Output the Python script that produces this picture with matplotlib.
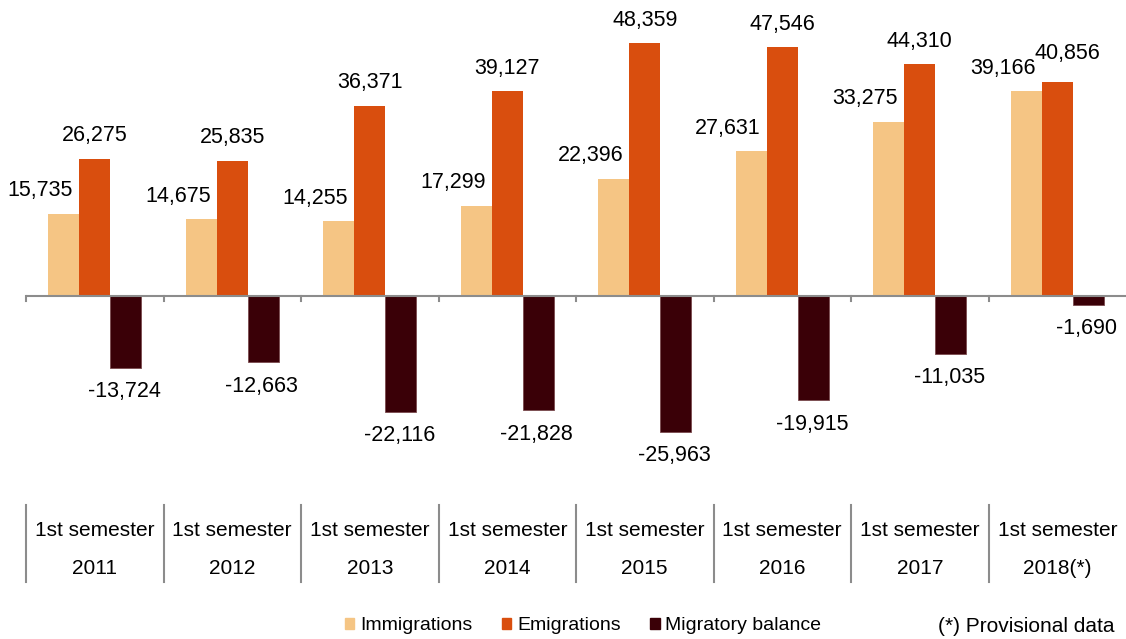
import numpy as np
import matplotlib.pyplot as plt
from matplotlib.patches import Patch
from matplotlib.transforms import blended_transform_factory

plt.rcParams['font.family'] = ['Liberation Sans', 'DejaVu Sans']

semesters = ['2011', '2012', '2013', '2014', '2015', '2016', '2017', '2018(*)']
immigrations = [15735, 14675, 14255, 17299, 22396, 27631, 33275, 39166]
emigrations = [26275, 25835, 36371, 39127, 48359, 47546, 44310, 40856]
balance = [-13724, -12663, -22116, -21828, -25963, -19915, -11035, -1690]

c_imm = '#F5C584'
c_emi = '#D94E0E'
c_bal = '#3A0007'
grey = '#8C8C8C'

W, H = 1126, 639
fig = plt.figure(figsize=(W / 100, H / 100), dpi=100)
# axes: x from 26px to 1126px, y from 0 to 460px (top)
ax = fig.add_axes([26 / W, 1 - 460 / H, 1100 / W, 460 / H])

x = np.arange(len(semesters))
bw = 0.225
ax.bar(x - bw, immigrations, bw, color=c_imm)
ax.bar(x, emigrations, bw, color=c_emi)
ax.bar(x + bw, balance, bw, color=c_bal, edgecolor='#7a4a4e', linewidth=0.6)

ax.set_xlim(-0.5, 7.5)
ax.set_ylim(-31360, 56600)
ax.axis('off')
ax.axhline(0, color=grey, lw=1.5, zorder=3)

fs = 15.5
pad = 4400
for i in range(len(x)):
    ax.text(x[i] - bw - 0.17, immigrations[i] + pad, f'{immigrations[i]:,}',
            ha='center', va='center', fontsize=fs)
    # last emigration label nudged to clear its neighbour
    dx, dy = (0.075, 1200) if i == len(x) - 1 else (0, 0)
    ax.text(x[i] + dx, emigrations[i] + pad + dy, f'{emigrations[i]:,}',
            ha='center', va='center', fontsize=fs)
    ax.text(x[i] + bw - 0.01, balance[i] - pad - 200, f'{balance[i]:,}',
            ha='center', va='center', fontsize=fs)

# small ticks at category boundaries
for b in np.arange(-0.5, 7.5, 1.0):
    ax.plot([b, b], [0, -1000], color=grey, lw=1.5, clip_on=False)

# category table below the chart
tr = blended_transform_factory(ax.transData, fig.transFigure)
for b in np.arange(-0.5, 7.5, 1.0):
    ax.plot([b, b], [1 - 505 / H, 1 - 582 / H], color=grey, lw=1.5,
            transform=tr, clip_on=False)
for i, s in enumerate(semesters):
    ax.text(x[i], 1 - 530 / H, '1st semester', ha='center', va='center',
            fontsize=15, transform=tr)
    ax.text(x[i], 1 - 569 / H, s, ha='center', va='center',
            fontsize=15, transform=tr)

handles = [Patch(color=c_imm, label='Immigrations'),
           Patch(color=c_emi, label='Emigrations'),
           Patch(color=c_bal, label='Migratory balance')]
fig.legend(handles=handles, loc='center', bbox_to_anchor=(583 / W, 1 - 626 / H),
           ncol=3, frameon=False, fontsize=14, handlelength=0.5, handleheight=0.5,
           handletextpad=0.3, columnspacing=1.5)
fig.text(1115 / W, 1 - 626 / H, '(*) Provisional data', ha='right', va='center',
         fontsize=15)

fig.savefig('out.png', dpi=100)
